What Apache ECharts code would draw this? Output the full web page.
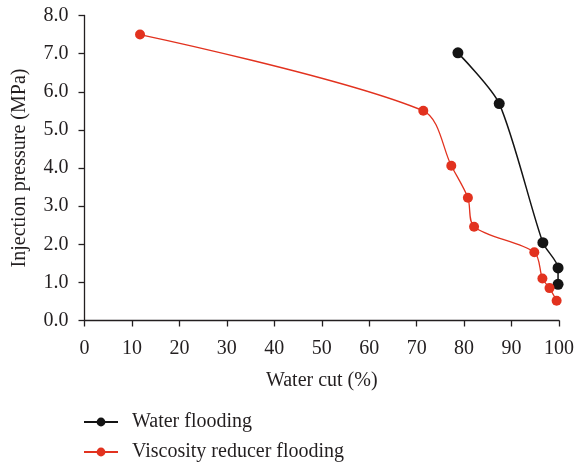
<!DOCTYPE html>
<html>
<head>
<meta charset="utf-8">
<script src="https://cdn.jsdelivr.net/npm/echarts@6/dist/echarts.min.js"></script>
<style>
  html, body { margin: 0; padding: 0; background: #fff; }
  #chart { width: 575px; height: 464px; }
</style>
</head>
<body>
<div id="chart"></div>
<script>
// Water cut (%) and injection pressure (MPa) for each flooding scheme
const waterFloodCut = [78.7, 87.4, 96.6, 99.8, 99.8];
const waterFloodPressure = [7.02, 5.69, 2.04, 1.38, 0.95];

const reducerFloodCut = [11.7, 71.4, 77.3, 80.8, 82.1, 94.8, 96.5, 98.0, 99.5];
const reducerFloodPressure = [7.50, 5.50, 4.06, 3.22, 2.46, 1.79, 1.10, 0.85, 0.52];

const seriesNames = ['Water flooding', 'Viscosity reducer flooding'];

const pairs = (xs, ys) => xs.map((x, i) => [x, ys[i]]);

const FONT = 'Liberation Serif';
const FS = 20;
const INK = '#231f20';
const RED = '#e2321f';

const chart = echarts.init(document.getElementById('chart'), null, { renderer: 'canvas' });

chart.setOption({
  animation: false,
  backgroundColor: '#ffffff',
  textStyle: { fontFamily: FONT, color: INK },
  grid: { left: 84.5, right: 16, top: 15.5, bottom: 143.5, outerBoundsMode: 'none', containLabel: false },
  xAxis: {
    type: 'value',
    min: 0, max: 100, interval: 10,
    name: 'Water cut (%)',
    nameLocation: 'middle',
    nameGap: 50,
    nameTextStyle: { fontFamily: FONT, fontSize: FS, color: INK },
    axisLine: { show: true, onZero: false, lineStyle: { color: INK, width: 1.3 } },
    axisTick: { show: true, inside: false, length: 6, lineStyle: { color: INK, width: 1.3 } },
    axisLabel: { fontFamily: FONT, fontSize: FS, color: INK, margin: 18 },
    splitLine: { show: false }
  },
  yAxis: {
    type: 'value',
    min: 0, max: 8, interval: 1,
    name: 'Injection pressure (MPa)',
    nameLocation: 'middle',
    nameGap: 55,
    nameRotate: 90,
    nameTextStyle: { fontFamily: FONT, fontSize: FS, color: INK },
    axisLine: { show: true, onZero: false, lineStyle: { color: INK, width: 1.3 } },
    axisTick: { show: true, inside: false, length: 6, lineStyle: { color: INK, width: 1.3 } },
    axisLabel: { fontFamily: FONT, fontSize: FS, color: INK, margin: 16,
      formatter: v => v.toFixed(1) },
    splitLine: { show: false }
  },
  legend: {
    orient: 'vertical',
    left: 83,
    top: 412,
    padding: 0,
    itemWidth: 34,
    itemHeight: 11,
    itemGap: 10,
    textStyle: { fontFamily: FONT, fontSize: FS, color: INK, padding: [0, 0, 0, 9] },
    data: seriesNames
  },
  series: [
    {
      name: seriesNames[0],
      type: 'line',
      data: pairs(waterFloodCut, waterFloodPressure),
      smooth: 0.25,
      symbol: 'circle',
      symbolSize: 11,
      itemStyle: { color: '#141414' },
      lineStyle: { color: '#141414', width: 1.5 }
    },
    {
      name: seriesNames[1],
      type: 'line',
      data: pairs(reducerFloodCut, reducerFloodPressure),
      smooth: 0.3,
      symbol: 'circle',
      symbolSize: 10,
      itemStyle: { color: RED },
      lineStyle: { color: RED, width: 1.3 }
    }
  ]
});
</script>
</body>
</html>
